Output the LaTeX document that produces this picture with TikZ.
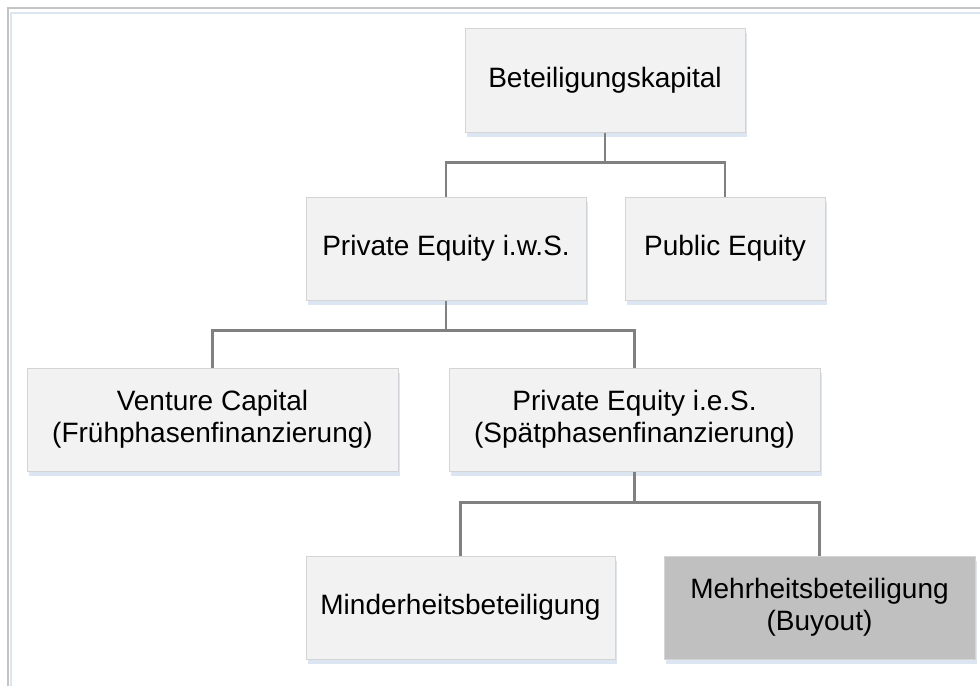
\documentclass[tikz,border=0pt]{standalone}
\usepackage{fontspec}
\setmainfont{Liberation Sans}
\definecolor{boxfill}{HTML}{F2F2F2}
\definecolor{boxline}{HTML}{D4D4D4}
\definecolor{shadowblue}{HTML}{DCE6F2}
\definecolor{connline}{HTML}{808080}
\definecolor{darkfill}{HTML}{C0C0C0}
\definecolor{framegray}{HTML}{C4C4C4}
\begin{document}
\begin{tikzpicture}[x=1pt,y=-1pt,
  orgbox/.style={rectangle, draw=boxline, line width=1pt, fill=boxfill, inner sep=0pt,
    align=center, font=\fontsize{28}{32}\selectfont, text=black,
    preaction={fill=shadowblue, transform canvas={shift={(2pt,-5pt)}}}},
  conn/.style={draw=connline, line width=2.6pt}]
\useasboundingbox (0,0) rectangle (980,686);
\fill[white] (0,0) rectangle (980,686);
% frame
\draw[framegray, line width=2.5pt] (8,686) -- (8,8) -- (980,8);
\draw[shadowblue, line width=1.5pt] (11,686) -- (11,13) -- (980,13);
% boxes
\node[orgbox, minimum width=280, minimum height=104] (bk) at (605,80) {Beteiligungskapital};
\node[orgbox, minimum width=280, minimum height=103] (pew) at (446,248.5) {Private Equity i.w.S.};
\node[orgbox, minimum width=200, minimum height=103] (pub) at (725,248.5) {Public Equity};
\node[orgbox, minimum width=371, minimum height=103] (vc) at (212.5,419.5) {Venture Capital\\(Frühphasenfinanzierung)};
\node[orgbox, minimum width=371, minimum height=103] (pee) at (634.5,419.5) {Private Equity i.e.S.\\(Spätphasenfinanzierung)};
\node[orgbox, minimum width=309, minimum height=103] (min) at (460.5,607.5) {Minderheitsbeteiligung};
\node[orgbox, fill=darkfill, minimum width=311, minimum height=103] (mehr) at (819.5,607.5) {Mehrheitsbeteiligung\\(Buyout)};
% connectors
\draw[conn] (bk.south) -- ++(0,30) coordinate (j1) -| (pew.north);
\draw[conn] (j1) -| (pub.north);
\draw[conn] (pew.south) -- ++(0,30) coordinate (j2) -| (vc.north);
\draw[conn] (j2) -| (pee.north);
\draw[conn] (pee.south) -- ++(0,31) coordinate (j3) -| (min.north);
\draw[conn] (j3) -| (mehr.north);
\end{tikzpicture}
\end{document}
